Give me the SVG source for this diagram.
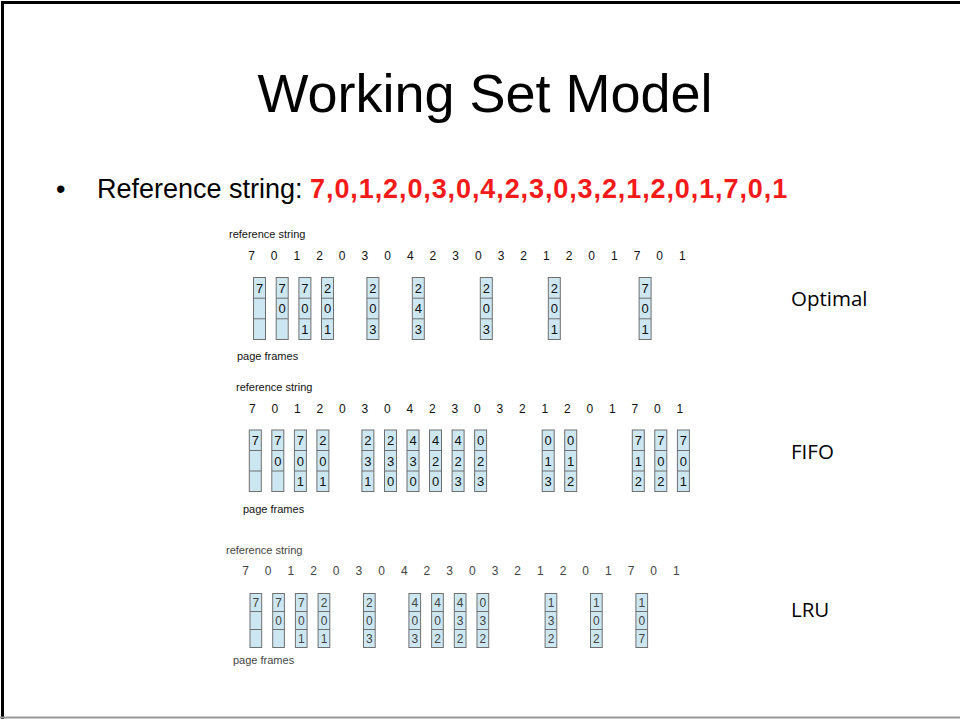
<svg xmlns="http://www.w3.org/2000/svg" xmlns:xlink="http://www.w3.org/1999/xlink" width="960" height="719" viewBox="0 0 960 719">
  <style>
    .title { font-family: "Liberation Sans", Arial, sans-serif; font-size: 54px; fill: #000; }
    .bullet { font-family: "Liberation Sans", Arial, sans-serif; font-size: 27px; fill: #000; }
    .red { font-weight: bold; fill: #f41a1a; letter-spacing: 0.9px; }
    .lbl { font-family: "Liberation Sans", Arial, sans-serif; font-size: 11px; fill: #111; }
    .seq { font-family: "Liberation Sans", Arial, sans-serif; font-size: 12px; fill: #111; text-anchor: middle; }
    .lru .seq, .lru .lbl, .lru .cv { fill: #444; }
    .cv { font-family: "Liberation Sans", Arial, sans-serif; font-size: 13px; fill: #111; text-anchor: middle; }
    .lru .cv { font-size: 12px; }
    .cell { fill: #cde7f2; stroke: #6f6f6f; stroke-width: 1; }
    .div { stroke: #6f6f6f; stroke-width: 1; fill: none; }
    .algo { font-family: "Open Sans", "Liberation Sans", sans-serif; font-size: 20.5px; fill: #000; }
  </style>
  <defs>
    <g id="optBox"><rect class="cell" x="0" y="0" width="12" height="62"/><path class="div" d="M0 20.7H12M0 41.3H12"/></g>
    <g id="fifoBox"><rect class="cell" x="0" y="0" width="12" height="61.5"/><path class="div" d="M0 20.5H12M0 41H12"/></g>
    <g id="lruBox"><rect class="cell" x="0" y="0" width="11.7" height="54"/><path class="div" d="M0 18H11.7M0 36H11.7"/></g>
  </defs>

  <!-- page background and frame -->
  <rect x="0" y="0" width="960" height="719" fill="#fff"/>
  <path d="M2.5 719V2.5H960" fill="none" stroke="#000" stroke-width="3"/>
  <path d="M0 717.5H960" fill="none" stroke="#999" stroke-width="2"/>

  <text class="title" x="485" y="112" text-anchor="middle">Working Set Model</text>
  <text class="bullet" x="56" y="198">•</text>
  <text class="bullet" x="97" y="198">Reference string: <tspan class="red">7,0,1,2,0,3,0,4,2,3,0,3,2,1,2,0,1,7,0,1</tspan></text>

  <!-- Optimal replacement -->
  <g id="optimal">
    <text class="lbl" x="229" y="238">reference string</text>
    <text class="seq" x="251.5 274.2 296.9 319.5 342.2 364.9 387.6 410.3 432.9 455.6 478.3 501 523.7 546.3 569 591.7 614.4 637.1 659.7 682.4" y="260">70120304230321201701</text>
    <g id="opt-0" transform="translate(253.5,277.5)"><use xlink:href="#optBox"/><text class="cv" x="6" y="15">7</text></g>
    <g id="opt-1" transform="translate(276.2,277.5)"><use xlink:href="#optBox"/><text class="cv" x="6" y="15">7</text><text class="cv" x="6" y="35.7">0</text></g>
    <g id="opt-2" transform="translate(298.9,277.5)"><use xlink:href="#optBox"/><text class="cv" x="6" y="15">7</text><text class="cv" x="6" y="35.7">0</text><text class="cv" x="6" y="56.3">1</text></g>
    <g id="opt-3" transform="translate(321.5,277.5)"><use xlink:href="#optBox"/><text class="cv" x="6" y="15">2</text><text class="cv" x="6" y="35.7">0</text><text class="cv" x="6" y="56.3">1</text></g>
    <g id="opt-5" transform="translate(366.9,277.5)"><use xlink:href="#optBox"/><text class="cv" x="6" y="15">2</text><text class="cv" x="6" y="35.7">0</text><text class="cv" x="6" y="56.3">3</text></g>
    <g id="opt-7" transform="translate(412.3,277.5)"><use xlink:href="#optBox"/><text class="cv" x="6" y="15">2</text><text class="cv" x="6" y="35.7">4</text><text class="cv" x="6" y="56.3">3</text></g>
    <g id="opt-10" transform="translate(480.3,277.5)"><use xlink:href="#optBox"/><text class="cv" x="6" y="15">2</text><text class="cv" x="6" y="35.7">0</text><text class="cv" x="6" y="56.3">3</text></g>
    <g id="opt-13" transform="translate(548.3,277.5)"><use xlink:href="#optBox"/><text class="cv" x="6" y="15">2</text><text class="cv" x="6" y="35.7">0</text><text class="cv" x="6" y="56.3">1</text></g>
    <g id="opt-17" transform="translate(639.1,277.5)"><use xlink:href="#optBox"/><text class="cv" x="6" y="15">7</text><text class="cv" x="6" y="35.7">0</text><text class="cv" x="6" y="56.3">1</text></g>
    <text class="lbl" x="237" y="360">page frames</text>
    <text class="algo" x="791" y="306">Optimal</text>
  </g>

  <!-- FIFO replacement -->
  <g id="fifo">
    <text class="lbl" x="236" y="391">reference string</text>
    <text class="seq" x="252.3 274.8 297.3 319.8 342.3 364.8 387.3 409.8 432.3 454.8 477.3 499.8 522.3 544.8 567.3 589.8 612.3 634.8 657.3 679.8" y="413">70120304230321201701</text>
    <g id="fifo-0" transform="translate(249.3,430)"><use xlink:href="#fifoBox"/><text class="cv" x="6" y="15">7</text></g>
    <g id="fifo-1" transform="translate(271.8,430)"><use xlink:href="#fifoBox"/><text class="cv" x="6" y="15">7</text><text class="cv" x="6" y="35.5">0</text></g>
    <g id="fifo-2" transform="translate(294.4,430)"><use xlink:href="#fifoBox"/><text class="cv" x="6" y="15">7</text><text class="cv" x="6" y="35.5">0</text><text class="cv" x="6" y="56">1</text></g>
    <g id="fifo-3" transform="translate(316.9,430)"><use xlink:href="#fifoBox"/><text class="cv" x="6" y="15">2</text><text class="cv" x="6" y="35.5">0</text><text class="cv" x="6" y="56">1</text></g>
    <g id="fifo-5" transform="translate(361.9,430)"><use xlink:href="#fifoBox"/><text class="cv" x="6" y="15">2</text><text class="cv" x="6" y="35.5">3</text><text class="cv" x="6" y="56">1</text></g>
    <g id="fifo-6" transform="translate(384.5,430)"><use xlink:href="#fifoBox"/><text class="cv" x="6" y="15">2</text><text class="cv" x="6" y="35.5">3</text><text class="cv" x="6" y="56">0</text></g>
    <g id="fifo-7" transform="translate(407,430)"><use xlink:href="#fifoBox"/><text class="cv" x="6" y="15">4</text><text class="cv" x="6" y="35.5">3</text><text class="cv" x="6" y="56">0</text></g>
    <g id="fifo-8" transform="translate(429.5,430)"><use xlink:href="#fifoBox"/><text class="cv" x="6" y="15">4</text><text class="cv" x="6" y="35.5">2</text><text class="cv" x="6" y="56">0</text></g>
    <g id="fifo-9" transform="translate(452.1,430)"><use xlink:href="#fifoBox"/><text class="cv" x="6" y="15">4</text><text class="cv" x="6" y="35.5">2</text><text class="cv" x="6" y="56">3</text></g>
    <g id="fifo-10" transform="translate(474.6,430)"><use xlink:href="#fifoBox"/><text class="cv" x="6" y="15">0</text><text class="cv" x="6" y="35.5">2</text><text class="cv" x="6" y="56">3</text></g>
    <g id="fifo-13" transform="translate(542.2,430)"><use xlink:href="#fifoBox"/><text class="cv" x="6" y="15">0</text><text class="cv" x="6" y="35.5">1</text><text class="cv" x="6" y="56">3</text></g>
    <g id="fifo-14" transform="translate(564.7,430)"><use xlink:href="#fifoBox"/><text class="cv" x="6" y="15">0</text><text class="cv" x="6" y="35.5">1</text><text class="cv" x="6" y="56">2</text></g>
    <g id="fifo-17" transform="translate(632.3,430)"><use xlink:href="#fifoBox"/><text class="cv" x="6" y="15">7</text><text class="cv" x="6" y="35.5">1</text><text class="cv" x="6" y="56">2</text></g>
    <g id="fifo-18" transform="translate(654.8,430)"><use xlink:href="#fifoBox"/><text class="cv" x="6" y="15">7</text><text class="cv" x="6" y="35.5">0</text><text class="cv" x="6" y="56">2</text></g>
    <g id="fifo-19" transform="translate(677.4,430)"><use xlink:href="#fifoBox"/><text class="cv" x="6" y="15">7</text><text class="cv" x="6" y="35.5">0</text><text class="cv" x="6" y="56">1</text></g>
    <text class="lbl" x="243" y="513">page frames</text>
    <text class="algo" x="791" y="459">FIFO</text>
  </g>

  <!-- LRU replacement -->
  <g id="lru" class="lru">
    <text class="lbl" x="226" y="554">reference string</text>
    <text class="seq" x="245.5 268.2 290.9 313.5 336.2 358.9 381.6 404.3 426.9 449.6 472.3 495 517.7 540.3 563 585.7 608.4 631.1 653.7 676.4" y="575">70120304230321201701</text>
    <g id="lru-0" transform="translate(250,593.5)"><use xlink:href="#lruBox"/><text class="cv" x="5.9" y="13.5">7</text></g>
    <g id="lru-1" transform="translate(272.7,593.5)"><use xlink:href="#lruBox"/><text class="cv" x="5.9" y="13.5">7</text><text class="cv" x="5.9" y="31.5">0</text></g>
    <g id="lru-2" transform="translate(295.4,593.5)"><use xlink:href="#lruBox"/><text class="cv" x="5.9" y="13.5">7</text><text class="cv" x="5.9" y="31.5">0</text><text class="cv" x="5.9" y="49.5">1</text></g>
    <g id="lru-3" transform="translate(318.1,593.5)"><use xlink:href="#lruBox"/><text class="cv" x="5.9" y="13.5">2</text><text class="cv" x="5.9" y="31.5">0</text><text class="cv" x="5.9" y="49.5">1</text></g>
    <g id="lru-5" transform="translate(363.5,593.5)"><use xlink:href="#lruBox"/><text class="cv" x="5.9" y="13.5">2</text><text class="cv" x="5.9" y="31.5">0</text><text class="cv" x="5.9" y="49.5">3</text></g>
    <g id="lru-7" transform="translate(408.9,593.5)"><use xlink:href="#lruBox"/><text class="cv" x="5.9" y="13.5">4</text><text class="cv" x="5.9" y="31.5">0</text><text class="cv" x="5.9" y="49.5">3</text></g>
    <g id="lru-8" transform="translate(431.6,593.5)"><use xlink:href="#lruBox"/><text class="cv" x="5.9" y="13.5">4</text><text class="cv" x="5.9" y="31.5">0</text><text class="cv" x="5.9" y="49.5">2</text></g>
    <g id="lru-9" transform="translate(454.3,593.5)"><use xlink:href="#lruBox"/><text class="cv" x="5.9" y="13.5">4</text><text class="cv" x="5.9" y="31.5">3</text><text class="cv" x="5.9" y="49.5">2</text></g>
    <g id="lru-10" transform="translate(477,593.5)"><use xlink:href="#lruBox"/><text class="cv" x="5.9" y="13.5">0</text><text class="cv" x="5.9" y="31.5">3</text><text class="cv" x="5.9" y="49.5">2</text></g>
    <g id="lru-13" transform="translate(545.1,593.5)"><use xlink:href="#lruBox"/><text class="cv" x="5.9" y="13.5">1</text><text class="cv" x="5.9" y="31.5">3</text><text class="cv" x="5.9" y="49.5">2</text></g>
    <g id="lru-15" transform="translate(590.5,593.5)"><use xlink:href="#lruBox"/><text class="cv" x="5.9" y="13.5">1</text><text class="cv" x="5.9" y="31.5">0</text><text class="cv" x="5.9" y="49.5">2</text></g>
    <g id="lru-17" transform="translate(635.9,593.5)"><use xlink:href="#lruBox"/><text class="cv" x="5.9" y="13.5">1</text><text class="cv" x="5.9" y="31.5">0</text><text class="cv" x="5.9" y="49.5">7</text></g>
    <text class="lbl" x="233" y="664">page frames</text>
    <text class="algo" x="791" y="617">LRU</text>
  </g>
</svg>
